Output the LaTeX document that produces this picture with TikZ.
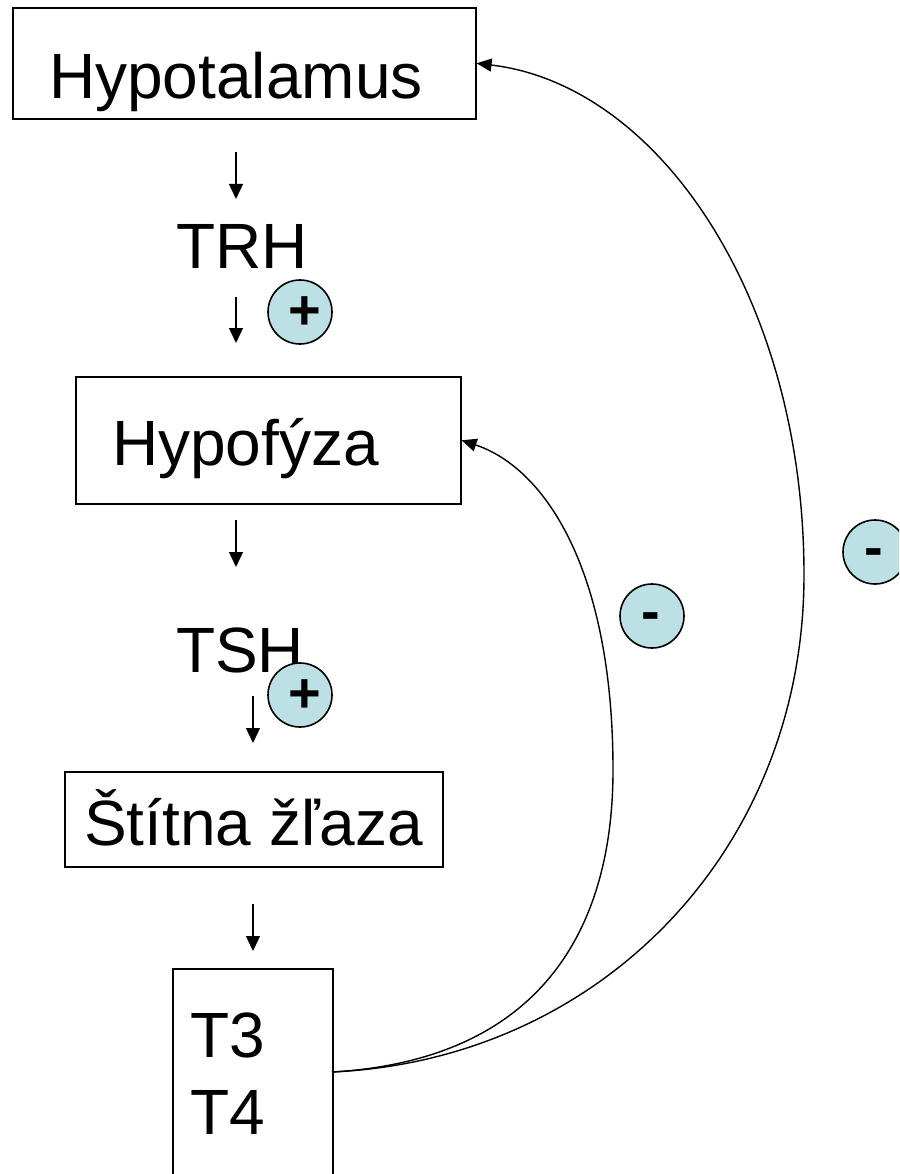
\documentclass[tikz,border=0pt]{standalone}
\usepackage{fontspec}
\setmainfont{Liberation Sans}
\usetikzlibrary{arrows.meta}
\definecolor{signfill}{HTML}{BCE0E4}
\tikzset{
  organ/.style={draw, line width=1.6pt, fill=white, inner sep=0pt, anchor=north west},
  lbl/.style={inner sep=0pt, anchor=base west, font=\fontsize{64}{70}\selectfont},
  down/.style={line width=1.3pt, -{Triangle[length=15pt,width=14pt]}},
  feedback/.style={line width=1.4pt, -{Triangle[length=15pt,width=13pt]}},
  sign/.style={circle, draw, line width=1.6pt, fill=signfill, minimum size=64pt, inner sep=0pt},
  signtxt/.style={inner sep=0pt, font=\fontsize{56}{60}\selectfont\bfseries}
}
\begin{document}
\begin{tikzpicture}[x=1pt,y=-1pt]
\useasboundingbox (0,0) rectangle (899,1174);
\clip (0,0) rectangle (899,1174);

% glands
\node[organ, minimum width=463pt, minimum height=111pt] (hyp) at (12,7) {};
\node[lbl] (thyp) at (49,99) {Hypotalamus};
\node[organ, minimum width=385pt, minimum height=127pt] (hyf) at (75,376) {};
\node[lbl] (thyf) at (112,465) {Hypofýza};
\node[organ, minimum width=378pt, minimum height=95pt] (sz) at (64,771) {};
\node[lbl] (tsz) at (84,845) {Štítna žľaza};
\node[organ, minimum width=160pt, minimum height=240pt] (t34) at (172,968) {};
\node[lbl] (tt3) at (190,1057) {T3};
\node[lbl] (tt4) at (190,1134) {T4};

% hormones
\node[lbl] (trh) at (176,268) {TRH};
\node[lbl] (tsh) at (176,672) {TSH};

% downward cascade
\coordinate (a1s) at (236,152); \coordinate (a1e) at (236,199);
\coordinate (a2s) at (236,297); \coordinate (a2e) at (236,343);
\coordinate (a3s) at (236,520); \coordinate (a3e) at (236,567);
\coordinate (a4s) at (253,696); \coordinate (a4e) at (253,743);
\coordinate (a5s) at (253,904); \coordinate (a5e) at (253,951);
\draw[down] (a1s) -- (a1e);
\draw[down] (a2s) -- (a2e);
\draw[down] (a3s) -- (a3e);
\draw[down] (a4s) -- (a4e);
\draw[down] (a5s) -- (a5e);

% stimulation marks
\node[sign] (p1) at (300,312) {};
\node[signtxt] at (305,313) {+};
\node[sign] (p2) at (300,695) {};
\node[signtxt] at (305,696) {+};

% negative feedback from T3/T4
\coordinate (src) at (332,1072);
\draw[feedback] (src) .. controls (600,1060) and (804,850) .. (804,575)
                      .. controls (804,300) and (660,85) .. (hyp.east);
\draw[feedback] (src) .. controls (540,1060) and (613,930) .. (613,770)
                      .. controls (613,570) and (545,468) .. (hyf.east);

\node[sign] (m1) at (652,616) {};
\node[signtxt] at (651,622) {-};
\node[sign] (m2) at (875,552) {};
\node[signtxt] at (874,558) {-};
\end{tikzpicture}
\end{document}
